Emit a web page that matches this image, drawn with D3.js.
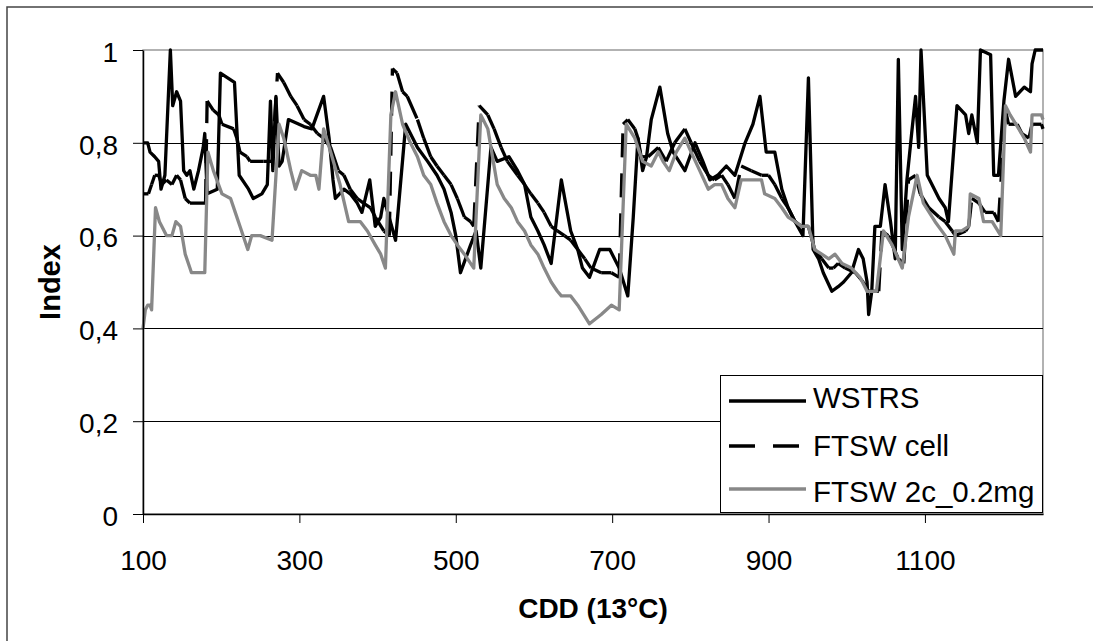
<!DOCTYPE html>
<html>
<head>
<meta charset="utf-8">
<script src="https://cdn.jsdelivr.net/npm/d3@7"></script>
<style>
  body { margin: 0; background: #fff; }
  svg { display: block; font-family: "Liberation Sans", Arial, sans-serif; }
</style>
</head>
<body>
<svg id="chart" width="1093" height="641"></svg>
<script>
// CDD (13°C) on x, index on y
const wstrsX = [100,106,109,115,120,123,128,135,138,143,148,152,156,160,165,171,177,179,182,195,199,217,223,235,241,252,259,263,266,270,274,278,286,306,316,331,338,343,
  346,357,365,374,380,390,397,404,408,423,436,451,464,476,485,494,500,506,519,526,532,545,553,568,579,588,596,605,613,622,635,647,656,662,671,684,697,709,720,727,733,739,744,750,761,771,778,793,806,816,825,835,846,857,870,880,889,897,908,917,925,934,944,951,957,964,970,981,989,996,1006,1015,1021,1026,1028,1032,1036,1043,1049,1056,1062,1066,1071,1077,1083,1088,1092,1095,1103,1109,1118,1126,1130,1141,1152,1156,1160,1167,1171,1184,1188,1194,1201,1207,1216,1227,1235,1237,1241,1251]
const wstrsY = [0.80,0.80,0.78,0.77,0.76,0.70,0.73,1.00,0.88,0.91,0.89,0.74,0.73,0.74,0.70,0.74,0.79,0.82,0.69,0.70,0.95,0.93,0.73,0.70,0.68,0.69,0.71,0.89,0.74,0.90,0.75,0.76,0.85,0.835,0.83,0.90,0.81,0.72,
  0.68,0.70,0.69,0.67,0.65,0.72,0.62,0.64,0.68,0.59,0.84,0.79,0.76,0.73,0.70,0.65,0.60,0.52,0.58,0.61,0.53,0.79,0.76,0.77,0.74,0.71,0.64,0.61,0.58,0.54,0.72,0.61,0.57,0.53,0.51,0.57,0.57,0.53,0.47,0.64,0.81,0.74,0.77,0.85,0.92,0.82,0.78,0.74,0.80,0.76,0.72,0.73,0.75,0.73,0.80,0.84,0.90,0.78,0.78,0.70,0.66,0.63,0.60,0.94,0.57,0.55,0.52,0.48,0.49,0.50,0.52,0.57,0.55,0.50,0.43,0.48,0.62,0.62,0.71,0.63,0.55,0.98,0.57,0.72,0.82,0.90,0.79,1.00,0.73,0.71,0.68,0.66,0.63,0.88,0.86,0.82,0.86,0.80,1.00,0.99,0.73,0.73,0.89,0.98,0.90,0.92,0.91,0.97,1.00,1.00]

const ftswCellX = [100,107,111,115,120,124,130,137,143,148,154,160,180,182,190,197,201,216,220,224,233,237,254,265,272,280,289,297,306,314,323,331,340,350,357,365,374,382,391,397,408,415,419,425,432,438,451,459,468,476,485,494,502,511,519,523,530,541,549,558,566,579,588,596,605,613,622,630,639,647,656,665,673,686,699,709,714,720,729,733,737,746,759,769,780,793,801,812,823,831,840,848,857,865,878,891,900,908,917,925,934,942,951,959,968,977,983,989,998,1011,1021,1028,1041,1045,1053,1066,1073,1079,1088,1094,1105,1118,1126,1135,1139,1152,1156,1160,1169,1177,1188,1194,1203,1207,1218,1224,1233,1237,1249,1251]
const ftswCellY = [0.69,0.69,0.71,0.73,0.73,0.71,0.72,0.71,0.73,0.72,0.68,0.67,0.67,0.89,0.87,0.86,0.84,0.83,0.81,0.78,0.77,0.76,0.76,0.76,0.95,0.93,0.90,0.88,0.85,0.84,0.82,0.81,0.79,0.74,0.73,0.70,0.68,0.67,0.66,0.64,0.61,0.60,0.96,0.95,0.91,0.90,0.85,0.81,0.77,0.75,0.73,0.71,0.68,0.64,0.63,0.62,0.88,0.86,0.83,0.79,0.76,0.73,0.71,0.69,0.67,0.65,0.62,0.61,0.60,0.59,0.57,0.55,0.53,0.52,0.52,0.51,0.84,0.85,0.83,0.81,0.77,0.77,0.79,0.76,0.80,0.83,0.80,0.76,0.73,0.72,0.73,0.71,0.68,0.75,0.74,0.73,0.73,0.71,0.68,0.66,0.63,0.62,0.62,0.57,0.55,0.53,0.53,0.54,0.53,0.52,0.50,0.48,0.48,0.61,0.60,0.55,0.54,0.72,0.73,0.69,0.66,0.64,0.63,0.61,0.60,0.61,0.62,0.68,0.67,0.65,0.65,0.63,0.87,0.84,0.84,0.82,0.81,0.84,0.84,0.83]

const ftsw2cX = [100,103,106,109,111,116,121,124,130,137,142,148,154,160,162,179,183,190,201,212,218,224,234,239,250,265,274,280,289,295,303,314,321,325,331,340,352,363,378,387,397,404,410,417,423,432,442,451,459,468,476,485,494,502,511,523,532,541,547,553,562,571,579,588,596,605,613,622,630,635,647,656,671,686,699,709,718,729,739,750,759,765,773,782,793,801,812,823,831,840,848,857,865,891,895,908,917,925,934,942,951,959,968,977,985,994,1006,1017,1026,1038,1047,1058,1071,1079,1090,1098,1113,1126,1137,1139,1147,1156,1158,1169,1175,1186,1197,1203,1209,1220,1227,1235,1237,1249,1251]
const ftsw2cY = [0.40,0.44,0.45,0.45,0.44,0.66,0.63,0.62,0.60,0.60,0.63,0.62,0.56,0.53,0.52,0.52,0.78,0.74,0.69,0.68,0.65,0.62,0.57,0.60,0.60,0.59,0.84,0.81,0.74,0.70,0.74,0.73,0.73,0.70,0.83,0.78,0.71,0.63,0.63,0.61,0.58,0.56,0.53,0.86,0.91,0.84,0.80,0.77,0.73,0.71,0.67,0.63,0.60,0.58,0.56,0.53,0.86,0.83,0.77,0.71,0.68,0.66,0.63,0.61,0.58,0.56,0.53,0.50,0.48,0.47,0.47,0.45,0.41,0.43,0.45,0.44,0.84,0.81,0.76,0.75,0.78,0.76,0.74,0.78,0.81,0.78,0.74,0.70,0.71,0.71,0.68,0.66,0.72,0.72,0.69,0.68,0.66,0.64,0.63,0.62,0.62,0.57,0.56,0.55,0.56,0.54,0.53,0.51,0.48,0.48,0.61,0.58,0.53,0.64,0.73,0.67,0.63,0.60,0.56,0.61,0.61,0.62,0.69,0.68,0.63,0.63,0.60,0.88,0.86,0.83,0.81,0.78,0.86,0.86,0.85]

const xTicks = [100, 300, 500, 700, 900, 1100]
const yTicks = [0, 0.2, 0.4, 0.6, 0.8, 1]
const yTickLabels = ['0', '0,2', '0,4', '0,6', '0,8', '1']
const seriesNames = ['WSTRS', 'FTSW cell', 'FTSW 2c_0.2mg']

const font = '"Liberation Sans", Arial, sans-serif'
const plotLeft = 143, plotRight = 1043, plotTop = 50, plotBottom = 514

const svg = d3.select('#chart')

const x = d3.scaleLinear().domain([100, 1251]).range([plotLeft, plotRight])
const y = d3.scaleLinear().domain([0, 1]).range([plotBottom, plotTop])

// outer frame (only top and left are inside the picture)
svg.append('path')
    .attr('d', 'M7,641 V7 H1093')
    .attr('fill', 'none')
    .attr('stroke', '#444')
    .attr('stroke-width', 1.5)

// plot area border
svg.append('rect')
    .attr('x', plotLeft).attr('y', plotTop)
    .attr('width', plotRight - plotLeft).attr('height', plotBottom - plotTop)
    .attr('fill', 'none')
    .attr('stroke', '#999')
    .attr('stroke-width', 1.5)

// gridlines
svg.append('g').selectAll('line')
    .data(yTicks.filter(d => d > 0 && d < 1))
    .enter()
    .append('line')
    .attr('x1', plotLeft).attr('x2', plotRight)
    .attr('y1', d => Math.round(y(d)) + 0.5)
    .attr('y2', d => Math.round(y(d)) + 0.5)
    .attr('stroke', '#000')
    .attr('stroke-width', 1)

function toPoints(xs, ys) {
    const n = Math.min(xs.length, ys.length)
    return xs.slice(0, n).map((v, i) => [v, ys[i]])
}

const line = d3.line().x(d => x(d[0])).y(d => y(d[1]))
const lineWidth = 3.3

const plot = svg.append('g')

// WSTRS
plot.append('path')
    .datum(toPoints(wstrsX, wstrsY))
    .attr('d', line)
    .attr('fill', 'none')
    .attr('stroke', '#000')
    .attr('stroke-width', lineWidth)
    .attr('stroke-linejoin', 'round')

// FTSW cell: dash pattern restarts on every segment, like the original
const cellPts = toPoints(ftswCellX, ftswCellY)
plot.append('g').selectAll('line')
    .data(d3.pairs(cellPts))
    .enter()
    .append('line')
    .attr('x1', d => x(d[0][0])).attr('y1', d => y(d[0][1]))
    .attr('x2', d => x(d[1][0])).attr('y2', d => y(d[1][1]))
    .attr('stroke', '#000')
    .attr('stroke-width', lineWidth)
    .attr('stroke-dasharray', '24,16')

// FTSW 2c_0.2mg
plot.append('path')
    .datum(toPoints(ftsw2cX, ftsw2cY))
    .attr('d', line)
    .attr('fill', 'none')
    .attr('stroke', '#888')
    .attr('stroke-width', lineWidth)
    .attr('stroke-linejoin', 'round')

// axes
const yAxis = svg.append('g')
    .attr('transform', `translate(${plotLeft},0)`)
    .call(d3.axisLeft(y).tickValues(yTicks).tickFormat((d, i) => yTickLabels[i]).tickSize(10).tickSizeOuter(0).tickPadding(15))
const xAxis = svg.append('g')
    .attr('transform', `translate(0,${plotBottom})`)
    .call(d3.axisBottom(x).tickValues(xTicks).tickFormat(d3.format('d')).tickSize(9).tickSizeOuter(0).tickPadding(28))

svg.selectAll('.domain').attr('stroke', '#000').attr('stroke-width', 1.5)
svg.selectAll('.tick line').attr('stroke', '#000').attr('stroke-width', 1)
svg.selectAll('.tick text')
    .attr('font-family', font)
    .attr('font-size', 28)
    .attr('fill', '#000')
yAxis.selectAll('.tick text').attr('dy', '0.4em')
xAxis.selectAll('.tick text').attr('dy', '0.69em')

// axis titles
svg.append('text')
    .attr('x', (plotLeft + plotRight) / 2).attr('y', 618)
    .attr('text-anchor', 'middle')
    .attr('font-family', font).attr('font-size', 28).attr('font-weight', 'bold')
    .text('CDD (13°C)')

svg.append('text')
    .attr('transform', `translate(60,${(plotTop + plotBottom) / 2}) rotate(-90)`)
    .attr('text-anchor', 'middle')
    .attr('font-family', font).attr('font-size', 29).attr('font-weight', 'bold')
    .text('Index')

// legend
const legend = svg.append('g')
legend.append('rect')
    .attr('x', 720.5).attr('y', 375.5)
    .attr('width', 322).attr('height', 137)
    .attr('fill', '#fff')
    .attr('stroke', '#000')
    .attr('stroke-width', 1)

const legendStyles = [
    { stroke: '#000', dash: null },
    { stroke: '#000', dash: '26,18' },
    { stroke: '#888', dash: null }
]
const legendLineY = [401, 446, 489]
const legendTextY = [408, 456, 502]

const items = legend.selectAll('g.item')
    .data(seriesNames)
    .enter()
    .append('g')
    .attr('class', 'item')

items.append('line')
    .attr('x1', 729).attr('x2', 806)
    .attr('y1', (d, i) => legendLineY[i]).attr('y2', (d, i) => legendLineY[i])
    .attr('stroke', (d, i) => legendStyles[i].stroke)
    .attr('stroke-width', lineWidth)
    .attr('stroke-dasharray', (d, i) => legendStyles[i].dash)

items.append('text')
    .attr('x', 813)
    .attr('y', (d, i) => legendTextY[i])
    .attr('font-family', font)
    .attr('font-size', 29.5)
    .text(d => d)
</script>
</body>
</html>
